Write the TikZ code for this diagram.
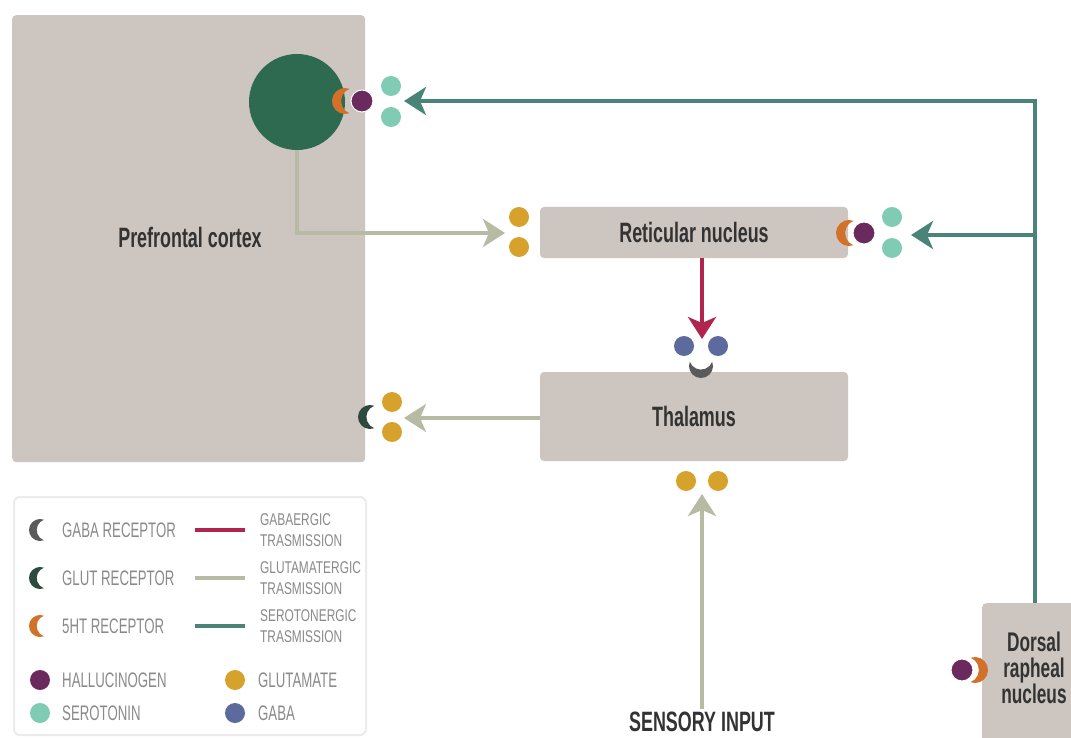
\documentclass[tikz,border=0pt]{standalone}
\usepackage{fontspec}
\setmainfont{Liberation Sans}
\newfontfamily\cond{Liberation Sans}[FakeStretch=0.64]
\newfontfamily\condl{Liberation Sans}[FakeStretch=0.63]
\newfontfamily\condr{Liberation Sans}[FakeStretch=0.7]
\usetikzlibrary{arrows.meta}
\definecolor{boxc}{HTML}{CCC5C0}
\definecolor{dkgreen}{HTML}{2D6A4F}
\definecolor{teal}{HTML}{4A8479}
\definecolor{sero}{HTML}{7FCBB3}
\definecolor{glu}{HTML}{D6A22B}
\definecolor{gaba}{HTML}{5D6A9D}
\definecolor{hallu}{HTML}{6A2A5E}
\definecolor{orng}{HTML}{D2712A}
\definecolor{gabarec}{HTML}{5A5A5A}
\definecolor{glurec}{HTML}{2E4A3E}
\definecolor{redl}{HTML}{B22450}
\definecolor{glutl}{HTML}{B8BBA3}
\definecolor{txt}{HTML}{333333}
\definecolor{ltxt}{HTML}{8A8A8A}
\newcommand\crsc[4]{\fill[#4,shift={(#1)},rotate=#3,scale=#2/10] (3.5,9.37) arc[start angle=69.5,end angle=290.5,radius=10] arc[start angle=249.5,end angle=110.5,radius=10] -- cycle;}
\tikzset{
  box/.style={fill=boxc,rounded corners=4pt,inner sep=0pt},
  lbl/.style={font=\cond\bfseries\fontsize{28}{26}\selectfont,text=txt,align=center},
  dot/.style={circle,fill=#1,inner sep=0pt,minimum size=20pt},
  arr/.style={line width=4pt,-{Stealth[length=22pt,width=28pt,inset=6pt]}},
  glutline/.style={arr,draw=glutl},
  seroline/.style={arr,draw=teal},
  gabaline/.style={arr,draw=redl},
  leg/.style={font=\condl\fontsize{21}{20}\selectfont,text=ltxt,anchor=west,inner sep=0pt},
  legs/.style={font=\condr\fontsize{17}{21}\selectfont,text=ltxt,anchor=west,align=left,inner sep=0pt},
}
\begin{document}
\begin{tikzpicture}[x=1pt,y=-1pt]
\useasboundingbox (0,0) rectangle (1071,738);
\fill[white] (0,0) rectangle (1071,738);
% boxes
\node[box,minimum width=353pt,minimum height=447pt,anchor=north west] (pfc) at (12,15) {};
\node[lbl] (pfct) at (190,237) {Prefrontal cortex};
\node[box,minimum width=308pt,minimum height=51pt] (ret) at (694,232.5) {};
\node[lbl] (rett) at (694,232.5) {Reticular nucleus};
\node[box,minimum width=308pt,minimum height=89pt] (thal) at (694,416.5) {};
\node[lbl] (thalt) at (694,416.5) {Thalamus};
\node[box,minimum width=100pt,minimum height=140pt,anchor=north west] (drn) at (982,603) {};
\node[lbl,font=\cond\bfseries\fontsize{27}{26}\selectfont] (drnt) at (1034,668) {Dorsal\\rapheal\\nucleus};
\node[lbl] (sens) at (702,722) {SENSORY INPUT};
% pyramidal cell
\node[circle,fill=dkgreen,minimum size=96pt,inner sep=0pt] (pyr) at (297,102) {};
\crsc{345,101}{13}{0}{orng}
\node[dot=hallu,minimum size=22pt,draw=white,line width=1pt] (h1) at (362,101) {};
\node[dot=sero] (s1) at (391,86) {};
\node[dot=sero] (s2) at (391,117) {};
% serotonergic
\coordinate (trunk) at (1035,101);
\coordinate (branch) at (1035,235);
\coordinate (tip1) at (404,101);
\coordinate (tip2) at (911,235);
\draw[seroline] (drn.north -| trunk) -- (trunk) -- (tip1);
\draw[seroline] (branch) -- (tip2);
% reticular synapses
\node[dot=glu] (g1) at (519,217) {};
\node[dot=glu] (g2) at (519,247) {};
\crsc{849,233}{13}{0}{orng}
\node[dot=hallu,minimum size=22pt,draw=white,line width=1pt] (h2) at (864,233) {};
\node[dot=sero] (s3) at (892,217) {};
\node[dot=sero] (s4) at (892,248) {};
% glutamatergic from PFC
\coordinate (tip3) at (505,233);
\draw[glutline] (pyr.south) |- (tip3);
% GABA arrow
\coordinate (tip4) at (702,339);
\draw[gabaline] (ret.south -| tip4) -- (tip4);
\node[dot=gaba] (b1) at (684,346) {};
\node[dot=gaba] (b2) at (718,346) {};
\crsc{701,366}{12}{90}{gabarec}
% thalamus to cortex
\coordinate (tip5) at (404,418);
\draw[glutline] (thal.west |- tip5) -- (tip5);
\node[dot=glu] (g3) at (392,402) {};
\node[dot=glu] (g4) at (392,432) {};
\crsc{370,417}{12}{0}{glurec}
% sensory
\node[dot=glu] (g5) at (686,481) {};
\node[dot=glu] (g6) at (718,481) {};
\coordinate (tip6) at (702,494);
\draw[glutline] (sens.north -| tip6) -- (tip6);
% dorsal raphe synapse
\crsc{975,670}{13}{180}{orng}
\node[dot=hallu,minimum size=22pt,draw=white,line width=1pt] (h3) at (962,670) {};
% legend
\node[draw=black!8,line width=2pt,fill=white,rounded corners=6pt,minimum width=352pt,minimum height=238pt,anchor=north west] (legend) at (13,496) {};
\crsc{40,530}{11}{0}{gabarec}
\node[leg] (l1) at (62,530) {GABA RECEPTOR};
\crsc{40,578}{11}{0}{glurec}
\node[leg] (l2) at (62,578) {GLUT RECEPTOR};
\crsc{40,626}{11}{0}{orng}
\node[leg] (l3) at (62,626) {5HT RECEPTOR};
\coordinate (la1) at (195,530); \coordinate (lb1) at (245,530);
\draw[redl,line width=4pt] (la1) -- (lb1);
\coordinate (la2) at (195,578); \coordinate (lb2) at (245,578);
\draw[glutl,line width=4pt] (la2) -- (lb2);
\coordinate (la3) at (195,626); \coordinate (lb3) at (245,626);
\draw[teal,line width=4pt] (la3) -- (lb3);
\node[legs] (r1) at (260,530) {GABAERGIC\\TRASMISSION};
\node[legs] (r2) at (260,578) {GLUTAMATERGIC\\TRASMISSION};
\node[legs] (r3) at (260,626) {SEROTONERGIC\\TRASMISSION};
\node[dot=hallu] (d1) at (40,680) {};
\node[leg] (l4) at (62,680) {HALLUCINOGEN};
\node[dot=sero] (d2) at (40,713) {};
\node[leg] (l5) at (62,713) {SEROTONIN};
\node[dot=glu] (d3) at (235,680) {};
\node[leg] (l6) at (258,680) {GLUTAMATE};
\node[dot=gaba] (d4) at (235,713) {};
\node[leg] (l7) at (258,713) {GABA};
\end{tikzpicture}
\end{document}
